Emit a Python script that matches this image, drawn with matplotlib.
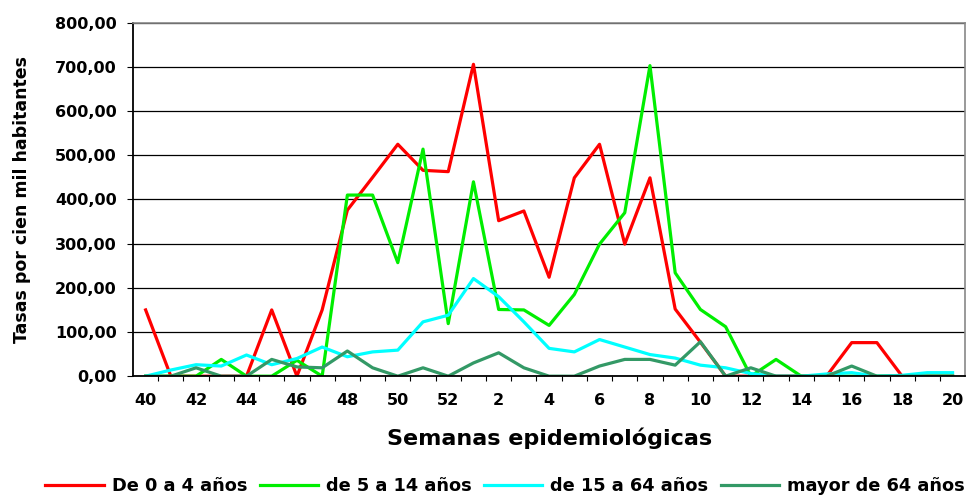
import matplotlib.pyplot as plt
from matplotlib.ticker import FixedLocator, MultipleLocator

semanas = [40, 41, 42, 43, 44, 45, 46, 47, 48, 49, 50, 51, 52,
           1, 2, 3, 4, 5, 6, 7, 8, 9, 10, 11, 12, 13, 14, 15, 16, 17, 18, 19, 20]

de_0_a_4 = [150, 0, 0, 0, 0, 150, 0, 150, 376, 450, 525, 466, 463,
            706, 352, 374, 224, 449, 525, 299, 449, 152, 77, 0, 0, 0, 0, 0, 76, 76, 0, 0, 0]
de_5_a_14 = [0, 0, 0, 38, 0, 0, 36, 0, 410, 410, 257, 514, 119,
             440, 151, 150, 115, 185, 299, 370, 703, 234, 151, 112, 0, 38, 0, 0, 0, 0, 0, 0, 0]
de_15_a_64 = [0, 14, 26, 23, 48, 26, 40, 66, 44, 55, 59, 123, 138,
              221, 180, 123, 63, 55, 83, 66, 49, 41, 25, 19, 6, 0, 0, 5, 8, 0, 2, 8, 8]
mayor_64 = [0, 0, 19, 0, 0, 38, 21, 19, 57, 19, 0, 19, 0,
            30, 53, 19, 0, 0, 23, 38, 38, 25, 78, 0, 19, 0, 0, 0, 23, 0, 0, 0, 0]

series = [
    ("De 0 a 4 años", de_0_a_4, "#ff0000"),
    ("de 5 a 14 años", de_5_a_14, "#00ee00"),
    ("de 15 a 64 años", de_15_a_64, "#00ffff"),
    ("mayor de 64 años", mayor_64, "#339966"),
]

plt.rcParams['font.family'] = ['DejaVu Sans']

fig = plt.figure(figsize=(9.71, 4.95), dpi=100)
ax = fig.add_axes([0.137, 0.240, 0.857, 0.714])

x = list(range(len(semanas)))
for nombre, valores, color in series:
    ax.plot(x, valores, color=color, linewidth=2.3, label=nombre)

ax.set_xlim(-0.5, len(semanas) - 0.5)
ax.set_ylim(0, 800)
ax.yaxis.set_major_locator(MultipleLocator(100))
ax.yaxis.grid(True, color="black", linewidth=0.9)
ax.set_axisbelow(True)

ax.set_yticklabels([f"{v:.2f}".replace(".", ",") for v in ax.get_yticks()],
                   fontsize=11.5, fontweight="bold")

pos = list(range(0, len(semanas), 2))
ax.xaxis.set_major_locator(FixedLocator(pos))
ax.set_xticklabels([str(semanas[i]) for i in pos], fontsize=11.5, fontweight="bold")
ax.xaxis.set_minor_locator(FixedLocator([i + 0.5 for i in range(len(semanas) - 1)]))
ax.tick_params(axis="x", which="major", length=0, pad=12)
ax.tick_params(axis="x", which="minor", length=3.5, width=0.8, direction="out")
ax.tick_params(axis="y", length=4.3, width=0.8, pad=7.5)

for lado in ["top", "right"]:
    ax.spines[lado].set_color("#888888")
    ax.spines[lado].set_linewidth(1.2)
ax.spines["left"].set_linewidth(1.3)
ax.spines["bottom"].set_linewidth(1.3)

ax.set_xlabel("Semanas epidemiológicas", fontsize=16, fontweight="bold", labelpad=14)
ax.set_ylabel("Tasas por cien mil habitantes", fontsize=12.5, fontweight="bold")
ax.yaxis.set_label_coords(-0.1226, 0.5)

fig.legend(loc="center", bbox_to_anchor=(0.52, 0.018), ncol=4, frameon=False,
           prop={"weight": "bold", "size": 12.8}, handlelength=3.3, columnspacing=0.7,
           handletextpad=0.42, borderpad=0, borderaxespad=0)

fig.savefig("out.png", dpi=100)
